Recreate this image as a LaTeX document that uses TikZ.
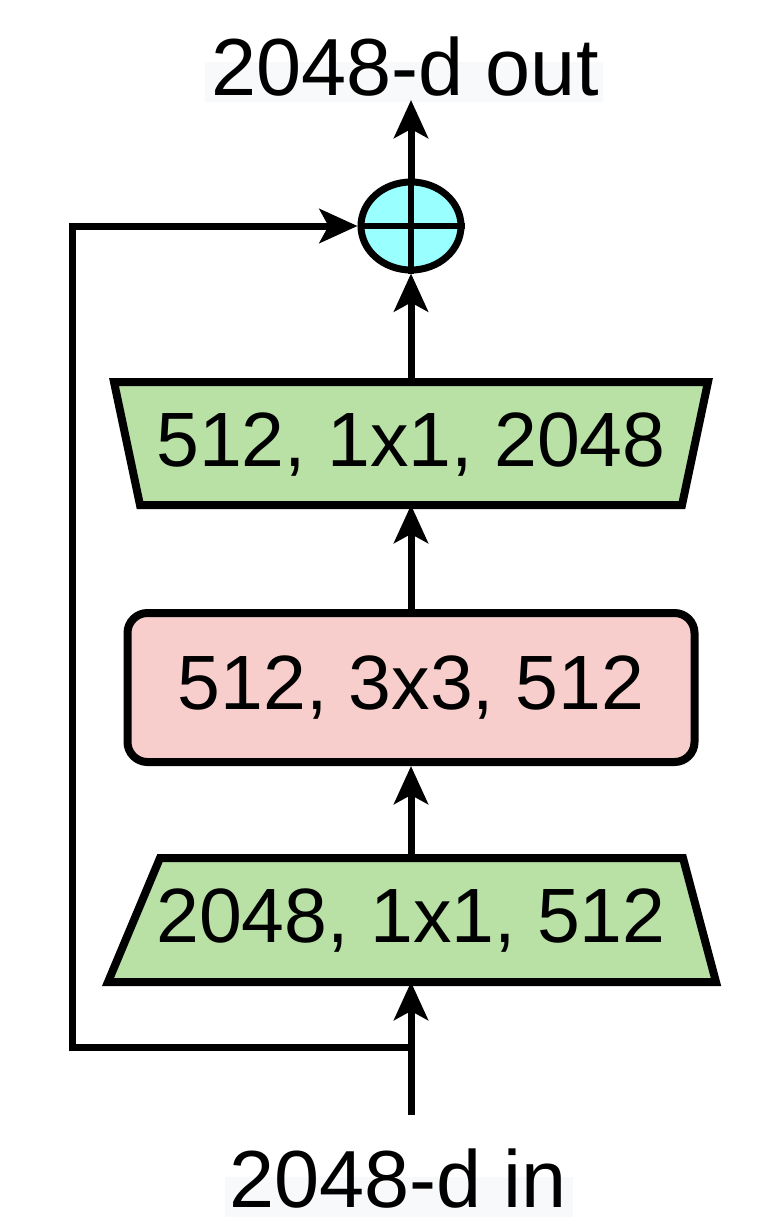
\documentclass[tikz,border=0pt]{standalone}
\usepackage{fontspec}
\setmainfont{Liberation Sans}
\usetikzlibrary{arrows.meta, positioning, shapes.geometric}
\definecolor{convgreen}{HTML}{B9E0A5}
\definecolor{convred}{HTML}{F8CECC}
\definecolor{sumcyan}{HTML}{99FFFF}
\definecolor{labelgray}{HTML}{F8F9FA}
\tikzset{
  flow/.style={line width=7pt, -{Stealth[length=38pt,width=34pt,inset=9pt]}},
  layer/.style={draw, line width=8pt, line join=miter},
  layertext/.style={font=\fontsize{77}{80}\selectfont, inner sep=0pt},
  iotext/.style={font=\fontsize{81}{86}\selectfont, inner sep=0pt, anchor=base},
}

\begin{document}
\begin{tikzpicture}[x=1pt,y=-1pt]
    \useasboundingbox (0,0) rectangle (782,1226);
    % label bands
    \fill[labelgray] (205,62) rectangle (603,102);
    \fill[labelgray] (225,1177) rectangle (573,1217);
    \node[iotext] (out) at (405,95) {2048-d out};
    \node[iotext] (in) at (398,1207) {2048-d in};
    % layers
    \draw[layer, fill=convgreen] (114,382) -- (708,382) -- (682,505) -- (140,505) -- cycle;
    \coordinate (expandtop) at (411,382);
    \coordinate (expandbot) at (411,505);
    \node[layertext] (expand) at (411,445) {512, 1x1, 2048};
    \node[layer, fill=convred, rounded corners=20pt, minimum width=567pt,
      minimum height=149pt] (conv) at (411,687.5) {};
    \node[layertext] at (conv) {512, 3x3, 512};
    \draw[layer, fill=convgreen] (160,858) -- (683,858) -- (716,982) -- (108,982) -- cycle;
    \coordinate (reducetop) at (411,858);
    \coordinate (reducebot) at (411,982);
    \node[layertext] (reduce) at (411,921) {2048, 1x1, 512};
    % sum
    \node[ellipse, draw, fill=sumcyan, line width=7pt, minimum width=100pt,
      minimum height=88pt] (sum) at (411,226) {};
    \draw[line width=6pt] (sum.north) -- (sum.south) (sum.west) -- (sum.east);
    % connectors
    \coordinate (inlet) at (411,1115);
    \coordinate (outlet) at (411,100);
    \coordinate (split) at (411,1047);
    \coordinate (skipcorner) at (72,226);
    \draw[flow] (inlet) -- (reducebot);
    \draw[flow] (reducetop) -- (conv.south);
    \draw[flow] (conv.north) -- (expandbot);
    \draw[flow] (expandtop) -- (sum.south);
    \draw[flow] (sum.north) -- (outlet);
    \draw[flow, line join=miter] (split) -| (skipcorner) -- (sum.west);
\end{tikzpicture}
\end{document}
